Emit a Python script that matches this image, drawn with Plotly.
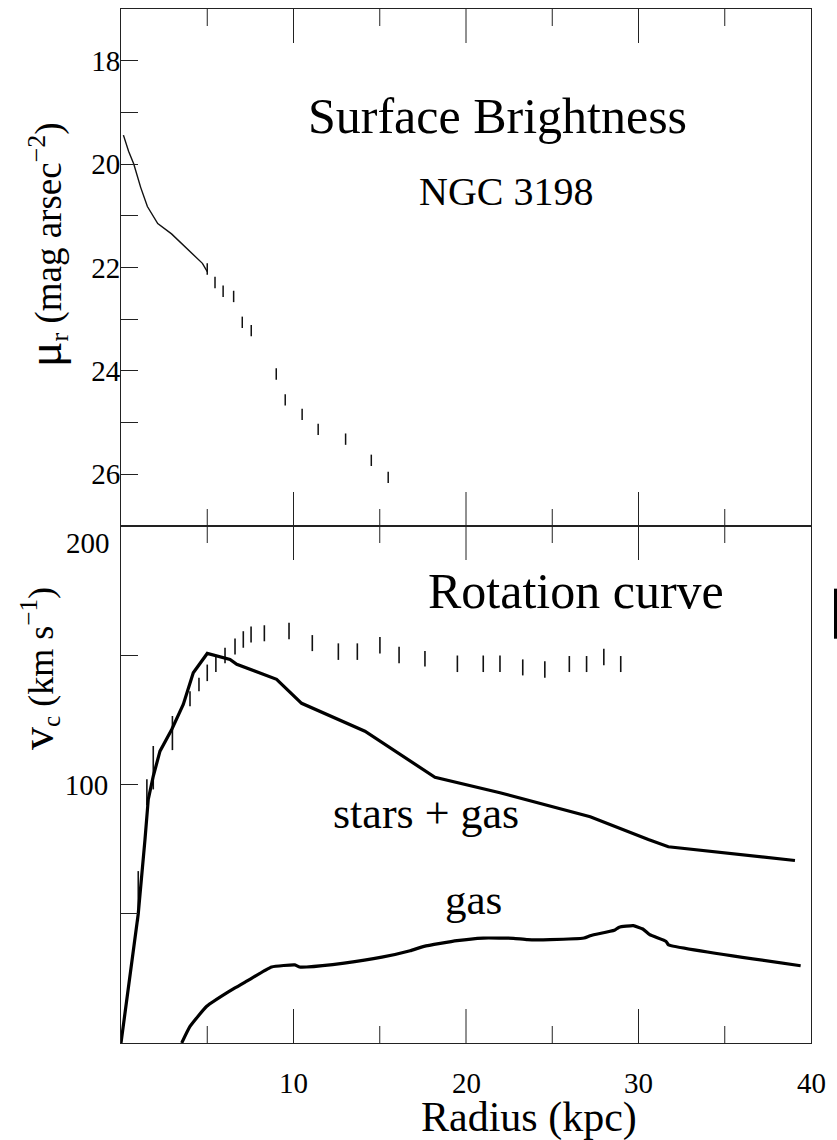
import plotly.graph_objects as go

FONT = "Liberation Serif"
INK = "#111111"

# ---------------- data ----------------
sb_line_r = [0.14, 0.44, 0.74, 1.14, 1.53, 2.13, 2.93, 4.72, 5.0]
sb_line_mu = [19.44, 19.75, 20.0, 20.45, 20.82, 21.15, 21.35, 21.92, 22.08]

sb_pts_r = [5.0, 5.45, 5.92, 6.53, 7.03, 7.55, 9.0, 9.52, 10.5, 11.43, 13.02, 14.51, 15.49]
sb_pts_mu = [22.03, 22.29, 22.46, 22.56, 23.06, 23.22, 24.06, 24.56, 24.84, 25.13, 25.32, 25.73, 26.06]
sb_pts_err = [0.11, 0.11, 0.11, 0.11, 0.11, 0.11, 0.11, 0.11, 0.11, 0.11, 0.11, 0.11, 0.11]

rc_r = [1.0, 1.5, 1.87, 2.98, 4.0, 4.52, 5.0, 5.5, 6.03, 6.61, 7.09, 7.54, 8.31, 9.74,
        11.09, 12.6, 13.7, 15.01, 16.12, 17.62, 19.5, 21.0, 21.97, 23.29, 24.57,
        25.99, 26.99, 27.99, 28.97]
rc_v = [56.8, 97.0, 106.5, 119.9, 133.2, 138.7, 143.2, 146.6, 149.9, 153.4, 156.1, 158.0,
        158.5, 159.4, 154.7, 151.4, 151.4, 153.9, 150.1, 148.6, 146.7, 146.7, 146.7,
        145.3, 144.5, 146.6, 146.6, 149.3, 146.6]
rc_err = [9.7, 5.0, 8.4, 6.6, 2.9, 2.6, 3.2, 3.1, 3.0, 3.1, 3.2, 3.1, 3.1, 3.2, 3.1, 3.2,
          3.2, 3.2, 3.2, 3.0, 3.2, 3.2, 3.2, 3.1, 3.2, 3.1, 3.1, 3.2, 3.1]

sg_r = [0.0, 1.0, 1.39, 1.58, 1.87, 2.26, 2.94, 3.61, 4.19, 5.0, 6.32, 6.71, 9.02, 10.47,
        14.14, 18.2, 21.97, 27.2, 30.57, 31.73, 39.07]
sg_v = [0.0, 50.0, 78.7, 94.2, 103.2, 112.9, 121.3, 131.0, 143.2, 150.7, 148.4, 146.5,
        140.7, 131.4, 120.6, 102.8, 96.8, 87.5, 78.7, 75.9, 70.6]

gas_r = [3.52, 4.0, 4.97, 6.13, 7.29, 8.73, 10.08, 10.35, 10.76, 12.94, 15.12, 16.76,
         17.57, 19.48, 21.0, 21.93, 22.75, 23.57, 24.87, 26.84, 27.25, 28.6, 28.88, 29.7,
         30.25, 30.65, 31.6, 31.74, 39.4]
gas_v = [0.0, 6.4, 14.2, 19.4, 23.9, 29.4, 30.2, 29.4, 29.4, 30.9, 33.2, 35.7, 37.4, 39.6,
         40.6, 40.6, 40.5, 40.0, 40.0, 40.6, 41.6, 43.6, 44.8, 45.4, 44.1, 41.9, 39.3, 38.0,
         29.9]

x_labels = [10, 20, 30, 40]
x_major = [10, 20, 30]
x_minor = [5, 15, 25, 35]
mu_range = [27, 17]
v_range = [0, 200]
mu_ticks = [18, 20, 22, 24, 26]
mu_minor = [19, 21, 23, 25]
v_labelled = [100]
v_minor = [50, 150]

# ---------------- figure ----------------
fig = go.Figure()

fig.add_trace(go.Scatter(x=sb_line_r, y=sb_line_mu, mode="lines", xaxis="x", yaxis="y",
                         line=dict(color=INK, width=1.4), showlegend=False))
fig.add_trace(go.Scatter(x=sb_pts_r, y=sb_pts_mu, mode="markers", xaxis="x", yaxis="y",
                         marker=dict(size=0.1, color="rgba(0,0,0,0)"),
                         error_y=dict(type="data", array=sb_pts_err, width=0,
                                      thickness=1.5, color=INK),
                         showlegend=False))
fig.add_trace(go.Scatter(x=rc_r, y=rc_v, mode="markers", xaxis="x2", yaxis="y2",
                         marker=dict(size=0.1, color="rgba(0,0,0,0)"),
                         error_y=dict(type="data", array=rc_err, width=0,
                                      thickness=1.6, color=INK),
                         showlegend=False))
fig.add_trace(go.Scatter(x=sg_r, y=sg_v, mode="lines", xaxis="x2", yaxis="y2",
                         line=dict(color="black", width=3.2), showlegend=False))
fig.add_trace(go.Scatter(x=gas_r, y=gas_v, mode="lines", line_shape="spline",
                         xaxis="x2", yaxis="y2",
                         line=dict(color="black", width=3.2, smoothing=0.4),
                         showlegend=False))

# ---- x tick marks on the four horizontal frame edges, drawn as one-sided bars ----
PANEL_H = (1140 - 9 - 97) / 2          # panel height in px
MAJOR_PX, MINOR_PX = 34, 17


def edge_ticks(lo_val, hi_val, span, xaxis, yaxis):
    """lo_val = value at the bottom edge, hi_val = value at the top edge."""
    per_px = span / PANEL_H
    xs, ys, up, down = [], [], [], []
    for vals, px in ((x_major, MAJOR_PX), (x_minor, MINOR_PX)):
        ln = px * per_px
        for t in vals:
            # bottom edge: bar goes upward on screen
            xs.append(t); ys.append(lo_val)
            if lo_val < hi_val:
                up.append(ln); down.append(0)
            else:
                up.append(0); down.append(ln)
            # top edge: bar goes downward on screen
            xs.append(t); ys.append(hi_val)
            if lo_val < hi_val:
                up.append(0); down.append(ln)
            else:
                up.append(ln); down.append(0)
    fig.add_trace(go.Scatter(x=xs, y=ys, mode="markers", xaxis=xaxis, yaxis=yaxis,
                             marker=dict(size=0.1, color="rgba(0,0,0,0)"),
                             error_y=dict(type="data", symmetric=False, array=up,
                                          arrayminus=down, width=0, thickness=1,
                                          color="#222"),
                             hoverinfo="skip", showlegend=False))


edge_ticks(mu_range[0], mu_range[1], abs(mu_range[0] - mu_range[1]), "x", "y")
edge_ticks(v_range[0], v_range[1], v_range[1] - v_range[0], "x2", "y2")


def base_axis():
    return dict(showline=True, linecolor="#222", linewidth=1, showgrid=False,
                zeroline=False, tickcolor="#222", tickwidth=1,
                tickfont=dict(family=FONT, size=29, color="black"))


def x_axis(anchor):
    return dict(anchor=anchor, domain=[0, 1], range=[0, 40], ticks="",
                showline=True, linecolor="#222", linewidth=1, mirror=True,
                showgrid=False, zeroline=False, showticklabels=False)


y_top = base_axis()
y_top.update(domain=[0.5, 1], anchor="x", range=mu_range, tickmode="array",
             tickvals=mu_ticks, ticktext=[str(t) for t in mu_ticks], ticks="inside",
             ticklen=17, mirror=True, ticklabelstandoff=-6,
             minor=dict(tickmode="array", tickvals=mu_minor, ticks="inside",
                        ticklen=17, tickcolor="#222", tickwidth=1))
y_bot = base_axis()
y_bot.update(domain=[0, 0.5], anchor="x2", range=v_range, tickmode="array",
             tickvals=v_labelled, ticktext=[str(t) for t in v_labelled],
             ticks="inside", ticklen=17, mirror=True, ticklabelstandoff=6,
             minor=dict(tickmode="array", tickvals=v_minor, ticks="inside",
                        ticklen=17, tickcolor="#222", tickwidth=1))

ann = []


def txt(text, x, y, size, xref="x", yref="y", **kw):
    d = dict(text=text, x=x, y=y, xref=xref, yref=yref, showarrow=False,
             font=dict(family=FONT, size=size, color="black"))
    d.update(kw)
    ann.append(d)


for t in x_labels:
    txt(str(t), t, -0.039, 29, xref="x2", yref="paper", xanchor="center", yanchor="middle")

txt("Surface Brightness", 21.8, 19.06, 50)
txt("NGC 3198", 22.3, 20.53, 40)
txt("Rotation curve", 26.35, 175, 50, xref="x2", yref="y2")
txt("stars + gas", 17.68, 88.8, 44, xref="x2", yref="y2")
txt("gas", 20.43, 55.5, 43, xref="x2", yref="y2")

txt("200", 0, 200, 29, xref="paper", yref="y2", xanchor="right", yanchor="middle",
    xshift=-9, yshift=-17)

txt("Radius (kpc)", 0.591, -0.072, 42, xref="paper", yref="paper",
    xanchor="center", yanchor="middle")
txt("<span style='font-size:48px'>μ</span><sub>r</sub> (mag arsec<sup>−2</sup>)",
    -0.108, 0.772, 37, xref="paper", yref="paper", textangle=-90,
    xanchor="center", yanchor="middle")
txt("<span style='font-size:46px'>v</span><sub>c</sub> (km s<sup>−1</sup>)",
    -0.12, 0.362, 36, xref="paper", yref="paper", textangle=-90,
    xanchor="center", yanchor="middle")

fig.update_layout(
    width=837, height=1140,
    margin=dict(l=121, r=26, t=9, b=97),
    paper_bgcolor="white", plot_bgcolor="white",
    xaxis=x_axis("y"), xaxis2=x_axis("y2"),
    yaxis=y_top, yaxis2=y_bot,
    annotations=ann,
    shapes=[dict(type="rect", xref="paper", yref="paper", x0=1.0333, x1=1.045,
                 y0=0.391, y1=0.4394, fillcolor="black", line=dict(width=0))],
    showlegend=False,
)

fig.write_html("out.html")
